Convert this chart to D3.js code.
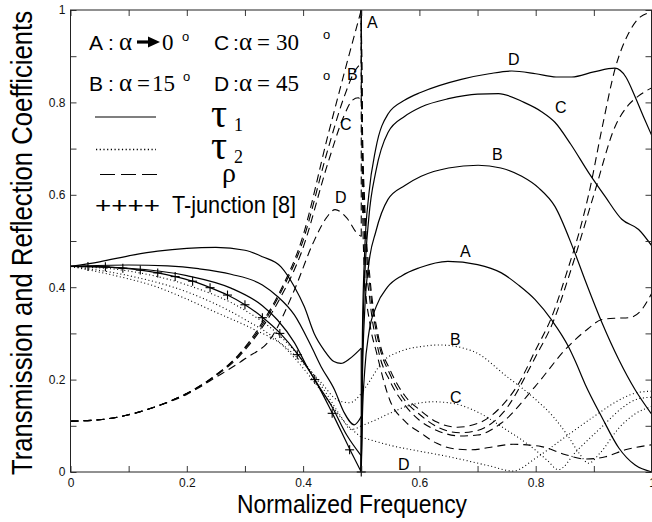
<!DOCTYPE html>
<html><head><meta charset="utf-8">
<script src="https://cdn.jsdelivr.net/npm/d3@7"></script>
<style>body{margin:0;background:#fff}svg{display:block}</style>
</head><body><svg id="c" width="652" height="522"></svg>
<script>
// ---------- DATA (normalized frequency, coefficient) ----------
const xTicks = [0,0.1,0.2,0.3,0.4,0.5,0.6,0.7,0.8,0.9,1];
const yTicks = [0,0.1,0.2,0.3,0.4,0.5,0.6,0.7,0.8,0.9,1];
const tickLabels = {0:"0",0.2:"0.2",0.4:"0.4",0.6:"0.6",0.8:"0.8",1:"1"};

// tau1 (solid)
const tau1A_pre = [[0,0.445],[0.03,0.445],[0.06,0.444],[0.09,0.441],[0.12,0.437],[0.15,0.431],[0.18,0.423],[0.21,0.413],[0.24,0.399],[0.27,0.383],[0.3,0.362],[0.33,0.335],[0.36,0.301],[0.39,0.256],[0.42,0.2],[0.45,0.128],[0.48,0.05],[0.5,0]];
const tau1A_post = [[0.5,0],[0.502,0.12],[0.506,0.22],[0.513,0.3],[0.526,0.359],[0.545,0.4],[0.57,0.425],[0.6,0.442],[0.649,0.456],[0.7,0.449],[0.741,0.431],[0.77,0.405],[0.799,0.373],[0.828,0.328],[0.856,0.272],[0.868,0.24],[0.885,0.19],[0.914,0.118],[0.943,0.052],[0.971,0.015],[1.0,0.0]];
const tau1B_pre = [[0,0.445],[0.1,0.441],[0.2,0.425],[0.276,0.398],[0.33,0.36],[0.356,0.329],[0.385,0.28],[0.408,0.225],[0.43,0.18],[0.448,0.145],[0.475,0.08],[0.5,0.035]];
const tau1B_post = [[0.5,0],[0.502,0.2],[0.506,0.35],[0.513,0.45],[0.525,0.52],[0.546,0.59],[0.575,0.62],[0.603,0.64],[0.65,0.658],[0.701,0.664],[0.74,0.658],[0.776,0.64],[0.805,0.615],[0.833,0.575],[0.865,0.482],[0.885,0.415],[0.914,0.323],[0.943,0.243],[0.971,0.178],[1.0,0.124]];
const tau1C_pre = [[0,0.445],[0.1,0.448],[0.167,0.446],[0.22,0.44],[0.276,0.428],[0.33,0.405],[0.356,0.38],[0.385,0.34],[0.414,0.272],[0.431,0.228],[0.454,0.178],[0.47,0.13],[0.488,0.102],[0.5,0.12]];
const tau1C_post = [[0.5,0],[0.502,0.25],[0.506,0.42],[0.513,0.55],[0.525,0.65],[0.546,0.735],[0.575,0.77],[0.603,0.79],[0.65,0.808],[0.7,0.818],[0.736,0.819],[0.78,0.8],[0.81,0.78],[0.833,0.757],[0.86,0.71],[0.891,0.648],[0.919,0.597],[0.948,0.547],[0.977,0.525],[1.0,0.489]];
const tau1D_pre = [[0,0.445],[0.05,0.455],[0.109,0.47],[0.15,0.478],[0.2,0.484],[0.25,0.486],[0.3,0.48],[0.33,0.466],[0.362,0.444],[0.385,0.401],[0.402,0.358],[0.419,0.3],[0.436,0.264],[0.453,0.239],[0.465,0.235],[0.48,0.245],[0.5,0.268]];
const tau1D_post = [[0.5,0],[0.502,0.3],[0.506,0.48],[0.513,0.6],[0.525,0.7],[0.546,0.775],[0.575,0.805],[0.603,0.822],[0.672,0.85],[0.72,0.862],[0.759,0.868],[0.8,0.862],[0.835,0.855],[0.862,0.855],[0.9,0.866],[0.936,0.874],[0.955,0.855],[0.97,0.815],[0.985,0.77],[1.0,0.727]];

// tau2 (dotted)
const tau2B_pre = [[0,0.445],[0.1,0.418],[0.138,0.405],[0.195,0.377],[0.253,0.344],[0.31,0.312],[0.368,0.272],[0.4,0.235],[0.43,0.195],[0.46,0.155],[0.48,0.15],[0.5,0.17]];
const tau2B_post = [[0.5,0.17],[0.511,0.19],[0.537,0.239],[0.569,0.262],[0.606,0.272],[0.635,0.275],[0.693,0.261],[0.75,0.207],[0.799,0.158],[0.83,0.12],[0.856,0.077],[0.875,0.04],[0.891,0.019],[0.91,0.04],[0.943,0.095],[0.97,0.125],[1.0,0.142]];
const tau2C_pre = [[0,0.445],[0.1,0.435],[0.2,0.405],[0.3,0.35],[0.36,0.295],[0.4,0.24],[0.44,0.17],[0.465,0.12],[0.483,0.092],[0.5,0.1]];
const tau2C_post = [[0.5,0.1],[0.52,0.11],[0.549,0.127],[0.585,0.145],[0.624,0.152],[0.66,0.148],[0.693,0.134],[0.75,0.091],[0.799,0.048],[0.82,0.025],[0.839,0.005],[0.87,0.045],[0.914,0.098],[0.95,0.14],[0.975,0.158],[1.0,0.162]];
const tau2D_pre = [[0,0.445],[0.1,0.425],[0.2,0.39],[0.3,0.33],[0.36,0.28],[0.4,0.225],[0.44,0.16],[0.47,0.11],[0.5,0.075]];
const tau2D_post = [[0.5,0.075],[0.52,0.068],[0.549,0.058],[0.6,0.045],[0.635,0.037],[0.68,0.025],[0.721,0.013],[0.761,0.002],[0.8,0.03],[0.85,0.075],[0.9,0.12],[0.95,0.16],[0.975,0.172],[1.0,0.175]];

// rho (dashed)
const rhoA_pre = [[0,0.11],[0.05,0.113],[0.1,0.124],[0.15,0.143],[0.2,0.17],[0.25,0.21],[0.29,0.255],[0.328,0.32],[0.36,0.39],[0.397,0.5],[0.443,0.73],[0.47,0.86],[0.5,1.0]];
const rhoA_post = [[0.5,1.0],[0.502,0.75],[0.506,0.58],[0.515,0.42],[0.53,0.29],[0.55,0.22],[0.575,0.165],[0.6,0.135],[0.63,0.108],[0.665,0.097],[0.7,0.105],[0.741,0.142],[0.77,0.19],[0.799,0.262],[0.828,0.337],[0.856,0.442],[0.875,0.52],[0.891,0.6],[0.915,0.75],[0.937,0.875],[0.96,0.95],[0.98,0.985],[1.0,0.995]];
const rhoB_pre = [[0,0.11],[0.05,0.113],[0.1,0.124],[0.15,0.143],[0.2,0.17],[0.25,0.21],[0.29,0.253],[0.328,0.315],[0.36,0.385],[0.397,0.49],[0.443,0.7],[0.47,0.81],[0.49,0.87],[0.5,0.885]];
const rhoB_post = [[0.5,1.0],[0.502,0.73],[0.506,0.55],[0.515,0.4],[0.53,0.28],[0.55,0.21],[0.575,0.155],[0.6,0.125],[0.63,0.098],[0.67,0.085],[0.7,0.09],[0.745,0.13],[0.8,0.25],[0.83,0.325],[0.86,0.435],[0.9,0.6],[0.937,0.749],[0.96,0.795],[0.977,0.814],[1.0,0.832]];
const rhoC_pre = [[0,0.11],[0.05,0.113],[0.1,0.124],[0.15,0.143],[0.2,0.17],[0.25,0.208],[0.29,0.25],[0.328,0.31],[0.36,0.375],[0.397,0.475],[0.443,0.67],[0.47,0.77],[0.485,0.805],[0.495,0.81],[0.5,0.8]];
const rhoC_post = [[0.5,1.0],[0.502,0.7],[0.506,0.5],[0.515,0.37],[0.53,0.26],[0.55,0.195],[0.575,0.145],[0.6,0.112],[0.63,0.09],[0.67,0.078],[0.7,0.08],[0.741,0.106],[0.799,0.185],[0.856,0.272],[0.89,0.31],[0.914,0.33],[0.94,0.333],[0.96,0.334],[0.98,0.348],[1.0,0.388]];
const rhoD_pre = [[0,0.11],[0.05,0.113],[0.1,0.124],[0.15,0.143],[0.2,0.168],[0.25,0.205],[0.3,0.245],[0.345,0.29],[0.385,0.394],[0.417,0.495],[0.44,0.55],[0.455,0.568],[0.475,0.55],[0.494,0.515],[0.5,0.51]];
const rhoD_post = [[0.5,1.0],[0.502,0.6],[0.506,0.42],[0.515,0.32],[0.526,0.26],[0.549,0.156],[0.575,0.11],[0.603,0.084],[0.63,0.062],[0.661,0.05],[0.69,0.048],[0.72,0.053],[0.761,0.06],[0.81,0.055],[0.85,0.038],[0.885,0.028],[0.92,0.033],[0.954,0.048],[1.0,0.059]];

// T-junction [8] reference points
const tjFreq = [0.03,0.06,0.09,0.12,0.15,0.18,0.21,0.24,0.27,0.30,0.33,0.36,0.39,0.42,0.45,0.48,0.5];
const tjVal  = [0.445,0.444,0.441,0.437,0.431,0.423,0.413,0.399,0.383,0.362,0.334,0.3,0.254,0.2,0.127,0.048,0.0];

// curve labels (text, frequency, value)
const curveLabels = [
  ["A",0.51,0.961],["B",0.4755,0.8485],["C",0.4634,0.7403],["D",0.4548,0.5823],
  ["D",0.7524,0.881],["C",0.8332,0.777],["B",0.7248,0.675],["A",0.6698,0.4654],
  ["B",0.6526,0.2749],["C",0.6526,0.1494],["D",0.5632,0.0043]
];

// ---------- DRAWING ----------
const svg = d3.select("#c");
svg.append("rect").attr("width",652).attr("height",522).attr("fill","#fff");
const x = d3.scaleLinear().domain([0,1]).range([70.5,652]);
const y = d3.scaleLinear().domain([0,1]).range([472,10]);
const SANS = "'Liberation Sans', Arial, Helvetica, sans-serif";
const SERIF = "'Liberation Serif', 'Times New Roman', serif";

const line = d3.line().x(d=>x(d[0])).y(d=>y(d[1])).curve(d3.curveMonotoneX);
const straight = d3.line().x(d=>x(d[0])).y(d=>y(d[1]));
const styles = {
  solid: {w:1.2, dash:null},
  dotted:{w:1.1, dash:"1,2.6"},
  dashed:{w:1.1, dash:"8,5"}
};
const series = [
  [tau1A_pre,tau1A_post,"solid"],[tau1B_pre,tau1B_post,"solid"],[tau1C_pre,tau1C_post,"solid"],[tau1D_pre,tau1D_post,"solid"],
  [tau2B_pre,tau2B_post,"dotted"],[tau2C_pre,tau2C_post,"dotted"],[tau2D_pre,tau2D_post,"dotted"],
  [rhoA_pre,rhoA_post,"dashed"],[rhoB_pre,rhoB_post,"dashed"],[rhoC_pre,rhoC_post,"dashed"],[rhoD_pre,rhoD_post,"dashed"]
];
const gCurves = svg.append("g").attr("fill","none").attr("stroke","#000");
series.forEach(([pre,post,st])=>{
  const s = styles[st];
  const seg = [pre, post];
  const a = pre[pre.length-1], b = post[0];
  if (a[1] !== b[1]) seg.push([a,b]);
  seg.forEach((pts,i)=>{
    const p = gCurves.append("path")
      .attr("d", i<2 ? line(pts) : straight(pts))
      .attr("stroke-width", s.w);
    if (s.dash) p.attr("stroke-dasharray", s.dash);
  });
});

// T-junction crosses
const gCross = svg.append("g").attr("stroke","#000").attr("stroke-width",1.1);
tjFreq.forEach((f,i)=>{
  const cx = x(f), cy = y(tjVal[i]);
  gCross.append("line").attr("x1",cx-4.5).attr("x2",cx+4.5).attr("y1",cy).attr("y2",cy);
  gCross.append("line").attr("x1",cx).attr("x2",cx).attr("y1",cy-4.5).attr("y2",cy+4.5);
});

// Axes (inside ticks, all four sides)
const fmt = d => { const k = Math.round(d*10)/10; return tickLabels[k] !== undefined ? tickLabels[k] : ""; };
const axStyle = g => {
  g.select(".domain").remove();
  g.selectAll(".tick line").attr("stroke","#222").attr("stroke-width",0.9);
  g.selectAll("text").attr("font-family",SANS).attr("font-size",12).attr("fill","#111");
};
svg.append("g").attr("transform","translate(0,472)")
  .call(d3.axisBottom(x).tickValues(xTicks).tickSizeInner(-6).tickSizeOuter(0).tickPadding(6).tickFormat(fmt)).call(axStyle);
svg.append("g").attr("transform","translate(70.5,0)")
  .call(d3.axisLeft(y).tickValues(yTicks).tickSizeInner(-6).tickSizeOuter(0).tickPadding(5).tickFormat(fmt)).call(axStyle);
svg.append("g").attr("transform","translate(0,10)")
  .call(d3.axisTop(x).tickValues(xTicks).tickSizeInner(-6).tickSizeOuter(0).tickFormat("")).call(axStyle);
svg.append("g").attr("transform","translate(651.5,0)")
  .call(d3.axisRight(y).tickValues(yTicks).tickSizeInner(-6).tickSizeOuter(0).tickFormat("")).call(axStyle);
svg.append("rect").attr("x",70.5).attr("y",10).attr("width",581).attr("height",462)
  .attr("fill","none").attr("stroke","#222").attr("stroke-width",1);

// Axis titles
svg.append("text").attr("x",352).attr("y",513).attr("text-anchor","middle")
  .attr("font-family",SANS).attr("font-size",25).attr("textLength",230).attr("lengthAdjust","spacingAndGlyphs")
  .text("Normalized Frequency");
svg.append("text").attr("transform","translate(32,243) rotate(-90)").attr("text-anchor","middle")
  .attr("font-family",SANS).attr("font-size",29).attr("textLength",464).attr("lengthAdjust","spacingAndGlyphs")
  .text("Transmission and Reflection Coefficients");

// Curve labels
svg.append("g").selectAll("text").data(curveLabels).join("text")
  .attr("x",d=>x(d[1])).attr("y",d=>y(d[2]))
  .attr("font-family",SANS).attr("font-size",16).text(d=>d[0]);

// Legend
const leg = svg.append("g");
function lt(str,xx,yy,size,fam){ return leg.append("text").attr("x",xx).attr("y",yy).attr("font-family",fam).attr("font-size",size).text(str); }
// row 1
lt("A",89,50,21,SANS); lt(":",108,50,21,SANS); lt("α",119,50,25,SERIF);
leg.append("path").attr("d","M137,42 L150,42").attr("stroke","#000").attr("stroke-width",3.2);
leg.append("path").attr("d","M148,36.5 L160,42 L148,47.5 Z").attr("fill","#000");
lt("0",162,50,23,SERIF); lt("o",182,41,13,SANS);
lt("C",214,50,21,SANS); lt(":",233,50,21,SANS); lt("α",239,50,25,SERIF); lt("=",257,50,23,SERIF); lt("30",276,50,23,SERIF); lt("o",323,39,13,SANS);
// row 2
lt("B",89,91,21,SANS); lt(":",108,91,21,SANS); lt("α",119,91,25,SERIF); lt("=",137,91,23,SERIF); lt("15",152,91,23,SERIF); lt("o",183,81,13,SANS);
lt("D",214,91,21,SANS); lt(":",233,91,21,SANS); lt("α",239,91,25,SERIF); lt("=",257,91,23,SERIF); lt("45",276,91,23,SERIF); lt("o",323,80,13,SANS);
// line samples
leg.append("line").attr("x1",95).attr("x2",156).attr("y1",117).attr("y2",117).attr("stroke","#000").attr("stroke-width",1.2);
leg.append("line").attr("x1",96).attr("x2",156).attr("y1",149.5).attr("y2",149.5).attr("stroke","#000").attr("stroke-width",1.3).attr("stroke-dasharray","1.2,2.5");
leg.append("line").attr("x1",100).attr("x2",157).attr("y1",174.5).attr("y2",174.5).attr("stroke","#000").attr("stroke-width",1.2).attr("stroke-dasharray","15,6");
lt("τ",211,127,40,SERIF); lt("1",234,131,18,SERIF);
lt("τ",211,159,40,SERIF); lt("2",234,163,18,SERIF);
lt("ρ",222,182,28,SERIF);
lt("++++",95,213,22,SANS).attr("textLength",65).attr("lengthAdjust","spacingAndGlyphs");
lt("T-junction [8]",172,213,24,SANS).attr("textLength",124).attr("lengthAdjust","spacingAndGlyphs");
</script></body></html>
